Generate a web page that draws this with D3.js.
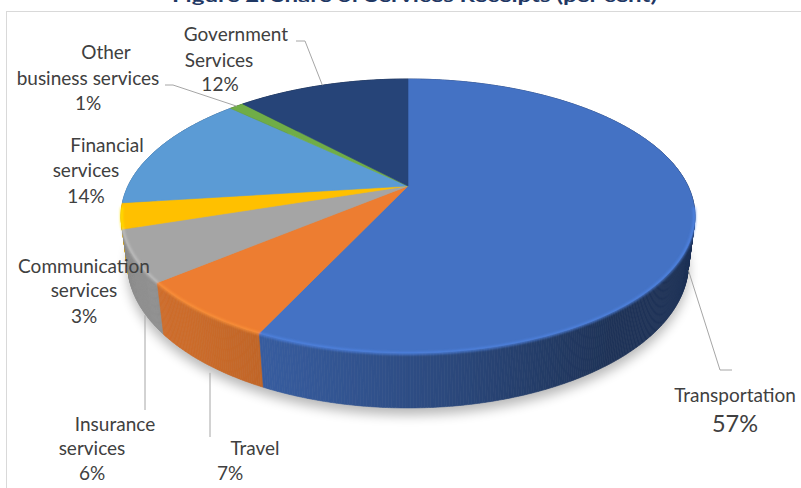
<!DOCTYPE html>
<html>
<head>
  <meta charset="UTF-8">
  <title>services receipts</title>
  <style>
  body, html, svg{
    padding: 0;
    margin: 0;
  }
  body{
    background: #fff;
  }
  svg{
    display: block;
  }
  .lbl{
    font-family: Lato, "Open Sans", sans-serif;
    fill: #404040;
  }
  </style>
</head>
<body>
  <script src="https://cdn.jsdelivr.net/npm/d3@7"></script>
  <script type="text/javascript">
  // data
  var categories = ['Transportation', 'Travel', 'Insurance services', 'Communication services',
    'Financial services', 'Other business services', 'Government Services'];
  var values = [57, 7, 6, 3, 14, 1, 12];
  var labelLines = [
    ['Transportation'],
    ['Travel'],
    ['Insurance', 'services'],
    ['Communication', 'services'],
    ['Financial', 'services'],
    ['Other', 'business services'],
    ['Government', 'Services']
  ];
  var title = 'Figure 2: Share of Services Receipts (per cent)';

  // styles / layout
  var colors = ['#4472C4', '#ED7D31', '#A5A5A5', '#FFC000', '#5B9BD5', '#70AD47', '#264478'];
  var labelPos = [
    [[735, 402], [735, 432]],
    [[255, 455], [230, 480]],
    [[115, 431], [92, 455], [92, 480]],
    [[84, 273], [84, 297], [84, 323]],
    [[107, 152], [86, 177], [86, 203]],
    [[106, 59], [88, 85], [88, 110]],
    [[236, 41], [219, 67], [220, 91]]
  ];
  // leader: anchor depth (0 top, 1 bottom), anchor radius, then extra points
  var leaders = [
    {z: 1, r: 1.0, pts: [[720, 370], [732, 370]]},
    {z: 1, r: 1.02, pts: [[210, 437]], vertical: true},
    {z: 1, r: 1.03, pts: [[145, 410]], vertical: true},
    null,
    null,
    {z: 0, r: 1.0, pts: [[173, 85], [165, 85]]},
    {z: 0, r: 1.0, pts: [[305, 41], [296, 41]]}
  ];

  var width = 801, height = 488;

  //画布
  var svg = d3.select('body')
  .append('svg')
  .attr('width', width)
  .attr('height', height);

  var defs = svg.append('defs');
  defs.append('filter').attr('id', 'shadow')
  .attr('x', '-20%').attr('y', '-20%').attr('width', '140%').attr('height', '140%')
  .append('feGaussianBlur').attr('stdDeviation', 6);
  defs.append('filter').attr('id', 'soft')
  .append('feGaussianBlur').attr('stdDeviation', 1.2);

  // title (clipped at top, as in the source) and chart border
  svg.append('text')
  .attr('x', 172).attr('y', 1.5)
  .attr('textLength', 485).attr('lengthAdjust', 'spacingAndGlyphs')
  .attr('font-family', 'Lato, "Open Sans", sans-serif')
  .attr('font-weight', 'bold').attr('font-size', 17)
  .attr('fill', '#1F3864')
  .text(title);

  svg.append('rect')
  .attr('x', 6.5).attr('y', 11.5)
  .attr('width', 900).attr('height', 600)
  .attr('fill', 'none').attr('stroke', '#D9D9D9');

  // perspective projection of the tilted disc
  var cx = 408, cy = 186, D = 4.04, sinA = 0.466, cosA = 0.885, f = 1131, depth = 0.193;
  function proj(a, r, z){
    var u = r * Math.sin(a), v = -r * Math.cos(a);
    var X = u,
        Y = v * sinA + z * depth * cosA,
        Z = D - v * cosA + z * depth * sinA;
    return [cx + f * X / Z, cy + f * Y / Z, Z];
  }

  var pie = d3.pie().sort(null).value(function(d){ return d; });
  var arcs = pie(values);
  var line = d3.line();

  function rim(a0, a1, z){
    var n = Math.max(2, Math.ceil((a1 - a0) / 0.01));
    var pts = [];
    for(var k = 0; k <= n; k++){
      pts.push(proj(a0 + (a1 - a0) * k / n, 1, z));
    }
    return pts;
  }

  // shadow under the pie
  svg.append('path')
  .attr('d', line(rim(0, Math.PI * 2, 1)) + 'Z')
  .attr('transform', 'translate(0,7)')
  .attr('fill', '#000')
  .attr('opacity', 0.28)
  .attr('filter', 'url(#shadow)');

  // outer walls, back to front
  function shade(color, a){
    var nx = Math.sin(a), ny = -Math.cos(a);
    var dot = Math.max(0, nx * -0.8 + ny * 0.6);
    var k = 0.45 + 0.42 * Math.pow(dot, 1.2);
    var c = d3.rgb(color);
    return d3.rgb(c.r * k, c.g * k, c.b * k).toString();
  }

  var segs = [];
  arcs.forEach(function(d, i){
    var step = 0.008;
    var n = Math.max(1, Math.ceil((d.endAngle - d.startAngle) / step));
    for(var k = 0; k < n; k++){
      var t0 = d.startAngle + (d.endAngle - d.startAngle) * k / n;
      var t1 = d.startAngle + (d.endAngle - d.startAngle) * (k + 1) / n;
      var mid = (t0 + t1) / 2;
      segs.push({
        pts: [proj(t0, 1, 0), proj(t1, 1, 0), proj(t1, 1, 1), proj(t0, 1, 1)],
        z: proj(mid, 1, 0)[2],
        color: shade(colors[i], mid)
      });
    }
  });
  segs.sort(function(a, b){ return b.z - a.z; });

  svg.append('g')
  .selectAll('path')
  .data(segs)
  .enter()
  .append('path')
  .attr('d', function(s){ return line(s.pts) + 'Z'; })
  .attr('fill', function(s){ return s.color; })
  .attr('stroke', function(s){ return s.color; })
  .attr('stroke-width', 0.6);

  // top faces
  var c0 = proj(0, 0, 0);
  svg.append('g')
  .selectAll('path')
  .data(arcs)
  .enter()
  .append('path')
  .attr('d', function(d){ return line([c0].concat(rim(d.startAngle, d.endAngle, 0))) + 'Z'; })
  .attr('fill', function(d, i){ return colors[i]; })
  .attr('stroke', function(d, i){ return colors[i]; })
  .attr('stroke-width', 0.6)
  .attr('stroke-linejoin', 'round');

  // bevel highlight along the front rim
  svg.append('g')
  .attr('filter', 'url(#soft)')
  .selectAll('path')
  .data(arcs)
  .enter()
  .append('path')
  .attr('d', function(d){
    var a0 = Math.max(d.startAngle, Math.PI * 0.55), a1 = Math.min(d.endAngle, Math.PI * 1.45);
    if(a1 <= a0) return null;
    return line(rim(a0, a1, 0.06).map(function(p){ return [p[0], p[1] - 3]; }));
  })
  .attr('fill', 'none')
  .attr('stroke', function(d, i){ return d3.rgb(colors[i]).brighter(0.5); })
  .attr('stroke-width', 3)
  .attr('opacity', 0.7);

  // leader lines
  var leaderG = svg.append('g');
  arcs.forEach(function(d, i){
    var L = leaders[i];
    if(!L) return;
    var mid = (d.startAngle + d.endAngle) / 2;
    var p = proj(mid, L.r, L.z);
    var start = [p[0], p[1] + (L.z > 0 ? 6 : 0)];
    var pts = [start].concat(L.pts);
    if(L.vertical){
      pts = [[L.pts[0][0], start[1]], L.pts[0]];
    }
    leaderG.append('path')
    .attr('d', line(pts))
    .attr('fill', 'none')
    .attr('stroke', '#A6A6A6')
    .attr('stroke-width', 1);
  });

  // labels
  var labelG = svg.append('g');
  categories.forEach(function(c, i){
    var lines = labelLines[i].concat([values[i] + '%']);
    lines.forEach(function(t, j){
      var big = (i === 0 && j === lines.length - 1);
      labelG.append('text')
      .attr('class', 'lbl')
      .attr('x', labelPos[i][j][0])
      .attr('y', labelPos[i][j][1])
      .attr('text-anchor', 'middle')
      .attr('font-size', big ? 23.5 : 19)
      .text(t);
    });
  });
  </script>
</body>
</html>
